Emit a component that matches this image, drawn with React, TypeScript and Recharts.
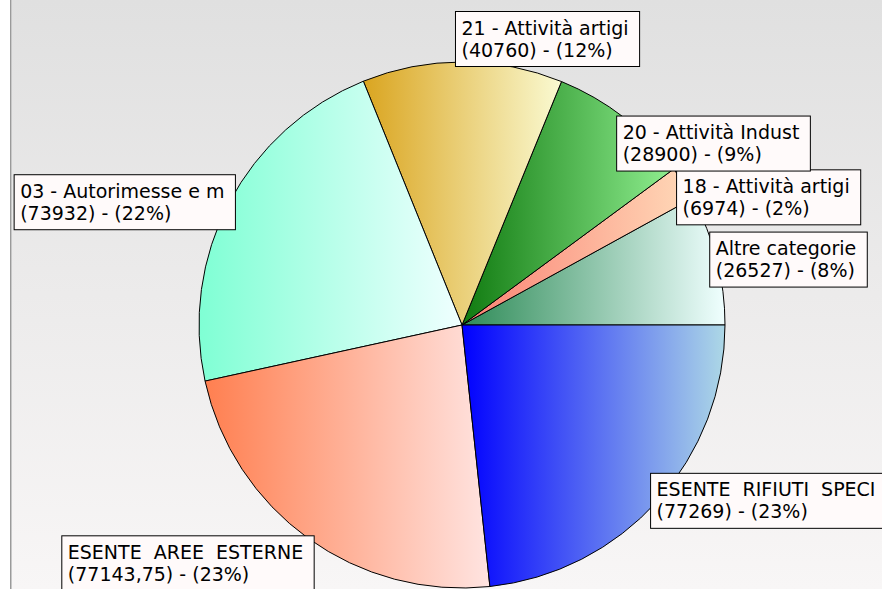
import { Cell, Pie, PieChart } from "recharts";

const names = [
  "Altre categorie",
  "18 - Attività artigi",
  "20 - Attività Indust",
  "21 - Attività artigi",
  "03 - Autorimesse e m",
  "ESENTE  AREE  ESTERNE",
  "ESENTE  RIFIUTI  SPECI",
];
const values = [26527, 6974, 28900, 40760, 73932, 77143.75, 77269];

// horizontal gradient per slice: [left, right]
const gradients = [
  ["#2e8b57", "#f0ffff"],
  ["#fa8072", "#ffdab9"],
  ["#107a10", "#90ee90"],
  ["#daa520", "#fafad2"],
  ["#7fffd4", "#f0ffff"],
  ["#ff7f50", "#ffe4e1"],
  ["#0000ff", "#add8e6"],
];

// vertical shift of each label box centre from the slice anchor point
const labelShift = [0, 14, 26, -23, 0, 25, 0];

const FONT = "19px 'DejaVu Sans'";
const RADIAN = Math.PI / 180;

let ctx: CanvasRenderingContext2D | null = null;
function textWidth(s: string) {
  if (!ctx) ctx = document.createElement("canvas").getContext("2d");
  if (!ctx) return s.length * 10;
  ctx.font = FONT;
  return ctx.measureText(s).width;
}

const total = values.reduce((a, b) => a + b, 0);
const data = names.map((name, i) => ({ name, value: values[i] }));

function renderLabel(props: any) {
  const { cx, cy, midAngle, outerRadius, index } = props;
  const ax = cx + outerRadius * Math.cos(-midAngle * RADIAN);
  const ay = cy + outerRadius * Math.sin(-midAngle * RADIAN);
  const line1 = names[index];
  const pct = Math.round((values[index] / total) * 100);
  const line2 = `(${String(values[index]).replace(".", ",")}) - (${pct}%)`;
  const w = Math.max(textWidth(line1), textWidth(line2)) + 17;
  const h = 55;
  const right = Math.cos(midAngle * RADIAN) >= 0;
  const x = right ? ax - 7 : ax + 6 - w;
  const y = ay + labelShift[index] - h / 2;
  return (
    <g key={`lbl-${index}`}>
      <rect x={x} y={y} width={w} height={h} fill="#fffafa" stroke="#000" strokeWidth={1} />
      <text
        x={x + 6}
        y={y + 23}
        fontFamily="'DejaVu Sans'"
        fontSize={19}
        fill="#000"
        style={{ whiteSpace: "pre" }}
      >
        {line1}
      </text>
      <text
        x={x + 6}
        y={y + 45}
        fontFamily="'DejaVu Sans'"
        fontSize={19}
        fill="#000"
        style={{ whiteSpace: "pre" }}
      >
        {line2}
      </text>
    </g>
  );
}

export default function App() {
  return (
    <div style={{ position: "relative", width: 882, height: 589, overflow: "hidden", background: "#fff" }}>
      <style>{`body{margin:0}`}</style>
      <div
        style={{
          position: "absolute",
          left: 10,
          top: 0,
          width: 872,
          height: 589,
          borderLeft: "1px solid #9a9a9a",
          boxShadow: "inset 1px 0 0 #c8c8c8",
          background: "linear-gradient(to bottom, #e0e0e0 0%, #f8f6f6 100%)",
        }}
      />
      <div style={{ position: "absolute", left: 0, top: 0 }}>
        <PieChart width={882} height={589} margin={{ top: 0, right: 0, bottom: 0, left: 0 }}>
          <defs>
            {gradients.map((g, i) => (
              <linearGradient key={i} id={`slice${i}`} x1="0" y1="0" x2="1" y2="0">
                <stop offset="0%" stopColor={g[0]} />
                <stop offset="100%" stopColor={g[1]} />
              </linearGradient>
            ))}
          </defs>
          <Pie
            data={data}
            dataKey="value"
            nameKey="name"
            cx={462}
            cy={325}
            outerRadius={263}
            startAngle={0}
            endAngle={360}
            stroke="#000"
            strokeWidth={1}
            label={renderLabel}
            labelLine={false}
            isAnimationActive={false}
          >
            {data.map((d, i) => (
              <Cell key={d.name} fill={`url(#slice${i})`} />
            ))}
          </Pie>
        </PieChart>
      </div>
    </div>
  );
}
